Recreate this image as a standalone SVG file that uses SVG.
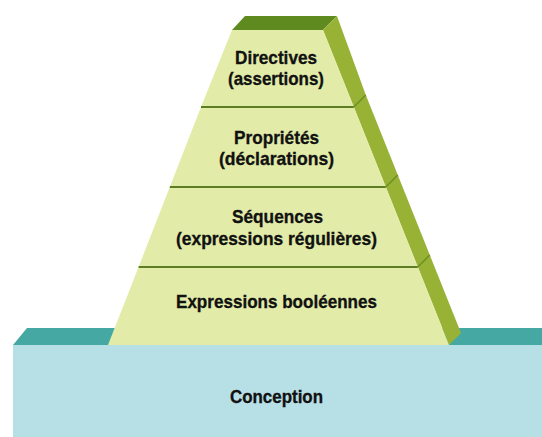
<svg xmlns="http://www.w3.org/2000/svg" width="542" height="437" viewBox="0 0 542 437">
<style>
.front{fill:#e2eca8}
.side{fill:#98b236}
.topf{fill:#5f8a20}
.div{stroke:#5e7d22;stroke-width:2;fill:none}
.sdiv{stroke:#6e8f25;stroke-width:1.5;fill:none}
.lbl{font-family:"Liberation Sans Narrow","Liberation Sans",Arial,sans-serif;font-weight:bold;font-size:19px;fill:#111;stroke:#111;stroke-width:0.35;text-anchor:middle}
.bfront{fill:#b7e0e6}
.btop{fill:#45a8a3}
</style>
<rect width="542" height="437" fill="#ffffff"/>
<g id="conception">
<polygon class="btop" points="13,345 27,328 542,328 542,345"/>
<rect class="bfront" x="13" y="345" width="529" height="92"/>
<text class="lbl" x="276.5" y="403" textLength="93" lengthAdjust="spacingAndGlyphs">Conception</text>
</g>
<g id="expressions-booleennes">
<polygon class="side" points="417.8,267 429.8,255 461,333 449,345"/>
<polygon class="front" points="138.6,267 417.8,267 449,345 108,345"/>
<text class="lbl" x="276.5" y="308" textLength="201" lengthAdjust="spacingAndGlyphs">Expressions booléennes</text>
</g>
<g id="sequences">
<polygon class="side" points="385.8,187 397.8,175 429.8,255 417.8,267"/>
<polygon class="front" points="169.8,187 385.8,187 417.8,267 138.6,267"/>
<text class="lbl" x="277.5" y="223" textLength="91" lengthAdjust="spacingAndGlyphs">Séquences</text>
<text class="lbl" x="276.5" y="245" textLength="201" lengthAdjust="spacingAndGlyphs">(expressions régulières)</text>
</g>
<g id="proprietes">
<polygon class="side" points="353.8,107 365.8,95 397.8,175 385.8,187"/>
<polygon class="front" points="201,107 353.8,107 385.8,187 169.8,187"/>
<text class="lbl" x="276.5" y="144" textLength="85" lengthAdjust="spacingAndGlyphs">Propriétés</text>
<text class="lbl" x="276.5" y="165" textLength="115" lengthAdjust="spacingAndGlyphs">(déclarations)</text>
</g>
<g id="directives">
<polygon class="topf" points="232,30 245,16 337,16 323,30"/>
<polygon class="side" points="323,30 337,16 365.8,95 353.8,107"/>
<polygon class="front" points="232,30 323,30 353.8,107 201,107"/>
<text class="lbl" x="276" y="64" textLength="82" lengthAdjust="spacingAndGlyphs">Directives</text>
<text class="lbl" x="276" y="85" textLength="96" lengthAdjust="spacingAndGlyphs">(assertions)</text>
</g>
<g id="connectors">
<line class="div" x1="201" y1="107" x2="353.8" y2="107"/>
<line class="sdiv" x1="353.8" y1="107" x2="365.8" y2="95"/>
<line class="div" x1="169.8" y1="187" x2="385.8" y2="187"/>
<line class="sdiv" x1="385.8" y1="187" x2="397.8" y2="175"/>
<line class="div" x1="138.6" y1="267" x2="417.8" y2="267"/>
<line class="sdiv" x1="417.8" y1="267" x2="429.8" y2="255"/>
</g>
</svg>
